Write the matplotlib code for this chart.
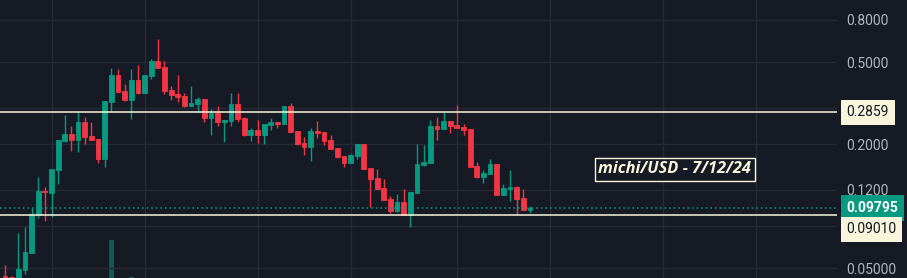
import numpy as np
import matplotlib
matplotlib.use("Agg")
import matplotlib.pyplot as plt

# michi/USD candles (log price scale)
opens = [0.0458, 0.0455, 0.0445, 0.0490, 0.0593, 0.0906, 0.1185, 0.1158, 0.1497, 0.2071,
         0.2239, 0.2094, 0.2560, 0.2189, 0.2117, 0.1693, 0.3201, 0.4328, 0.3619, 0.3273,
         0.4093, 0.3539, 0.4280, 0.5060, 0.4732, 0.3660, 0.3500, 0.3423, 0.3061, 0.3130,
         0.3310, 0.2677, 0.2830, 0.2560, 0.2589, 0.3130, 0.2677, 0.2214, 0.2341, 0.2214,
         0.2476, 0.2560, 0.2504, 0.3061, 0.2315, 0.2025, 0.1937, 0.2315, 0.2289, 0.2094,
         0.1915, 0.1751, 0.1619, 0.1751, 0.2002, 0.1531, 0.1369, 0.1225, 0.1083, 0.0947,
         0.1047, 0.0906, 0.1158, 0.1583, 0.1619, 0.2448, 0.2368, 0.2589, 0.2476, 0.2421,
         0.2368, 0.1566, 0.1384, 0.1432, 0.1601, 0.1133, 0.1211, 0.1238, 0.1096, 0.0958]
highs = [0.0518, 0.0458, 0.0741, 0.0793, 0.0979, 0.1384, 0.1238, 0.1514, 0.2094, 0.2768,
         0.2448, 0.2862, 0.2707, 0.2560, 0.2117, 0.3237, 0.4680, 0.4628, 0.3914, 0.4628,
         0.4839, 0.4328, 0.5175, 0.6470, 0.5060, 0.3828, 0.4328, 0.3539, 0.3828, 0.3385,
         0.3310, 0.2960, 0.3061, 0.2618, 0.3539, 0.3539, 0.2707, 0.2394, 0.2618, 0.2504,
         0.2677, 0.2560, 0.3061, 0.3165, 0.2315, 0.2165, 0.2394, 0.2589, 0.2289, 0.2214,
         0.1915, 0.1751, 0.1790, 0.2002, 0.2002, 0.1531, 0.1514, 0.1354, 0.1120, 0.1146,
         0.1211, 0.1172, 0.2002, 0.1980, 0.2618, 0.2707, 0.2862, 0.2589, 0.3095, 0.2504,
         0.2368, 0.1637, 0.1497, 0.1693, 0.1601, 0.1280, 0.1497, 0.1252, 0.1211, 0.1002]
lows = [0.0430, 0.0440, 0.0438, 0.0469, 0.0593, 0.0876, 0.0847, 0.0886, 0.1280, 0.2048,
        0.1851, 0.1831, 0.2002, 0.2094, 0.1619, 0.1548, 0.2895, 0.3579, 0.3237, 0.2647,
        0.3500, 0.3539, 0.4138, 0.4680, 0.3500, 0.3273, 0.3201, 0.3027, 0.3061, 0.2862,
        0.2560, 0.2214, 0.2448, 0.2048, 0.2448, 0.2560, 0.2189, 0.2071, 0.2025, 0.2002,
        0.2341, 0.2394, 0.2504, 0.2289, 0.1980, 0.1770, 0.1655, 0.2141, 0.1980, 0.1894,
        0.1712, 0.1548, 0.1619, 0.1693, 0.1514, 0.0990, 0.1211, 0.1071, 0.0926, 0.0937,
        0.0906, 0.0793, 0.1158, 0.1566, 0.1619, 0.2094, 0.2368, 0.2264, 0.2394, 0.2214,
        0.1548, 0.1369, 0.1295, 0.1432, 0.1133, 0.1133, 0.1059, 0.0916, 0.0958, 0.0926]
closes = [0.0448, 0.0446, 0.0496, 0.0599, 0.0916, 0.1185, 0.1172, 0.1514, 0.2094, 0.2239,
          0.2094, 0.2560, 0.2165, 0.2094, 0.1693, 0.3237, 0.4328, 0.3579, 0.3273, 0.4093,
          0.3539, 0.4328, 0.5060, 0.4680, 0.3619, 0.3461, 0.3385, 0.3061, 0.3165, 0.3310,
          0.2677, 0.2830, 0.2560, 0.2618, 0.3130, 0.2647, 0.2214, 0.2341, 0.2214, 0.2504,
          0.2560, 0.2504, 0.3061, 0.2289, 0.2002, 0.1937, 0.2315, 0.2264, 0.2071, 0.1894,
          0.1731, 0.1619, 0.1770, 0.2002, 0.1514, 0.1354, 0.1211, 0.1071, 0.0947, 0.1047,
          0.0906, 0.1172, 0.1601, 0.1637, 0.2448, 0.2368, 0.2589, 0.2448, 0.2394, 0.2341,
          0.1548, 0.1384, 0.1448, 0.1601, 0.1133, 0.1225, 0.1238, 0.1083, 0.0958, 0.09795]
volumes = [0, 0, 0, 0, 0, 0, 0, 0, 0, 0, 0, 0, 0, 0, 0, 0, 38.0, 0, 0, 1.0,
           0, 0, 0, 0, 0, 0, 0, 0, 0, 0, 0, 0, 0, 0, 0, 0, 0, 0, 0, 0,
           0, 0, 0, 0, 0, 0, 0, 0, 0, 0, 0, 0, 0, 0, 0, 0, 0, 0, 0, 0,
           0, 0, 0, 0, 0, 0, 0, 0, 0, 0, 0, 0, 0, 0, 0, 0, 0, 0, 0, 0]

# 0.3 and 0.08 grid levels have their labels hidden under the price boxes
price_ticks = [0.8, 0.5, 0.3, 0.2, 0.12, 0.08, 0.05]
price_tick_labels = ["0.8000", "0.5000", "", "0.2000", "0.1200", "", "0.05000"]
grid_bars = [7, 21, 38, 52, 68, 82, 99, 113]
levels = [0.2859, 0.0901]
last_price = 0.09795
title = "michi/USD - 7/12/24"
title_pos = (100.8, 0.151)

BG = "#161a25"
GRID = "#252a36"
UP = "#089981"
DOWN = "#f23645"
CREAM = "#f8f5dd"
TXT = "#b2b5be"

o = np.array(opens)
c = np.array(closes)
h = np.array(highs)
l = np.array(lows)
x = np.arange(len(o))
up = c >= o
colors = np.where(up, UP, DOWN)

fig = plt.figure(figsize=(9.07, 2.78), dpi=100, facecolor=BG)
ax = fig.add_axes([0, 0, 837 / 907, 1])
ax.set_facecolor(BG)
ax.set_yscale("log")
ax.set_ylim(0.0448, 1.0)
ax.set_xlim(-0.75, 125.2)

# volume pane behind candles
axv = ax.twinx()
axv.set_ylim(0, max(volumes) / 0.137)
axv.bar(x, volumes, width=0.75, color=UP, alpha=0.5, zorder=1)
axv.axis("off")
ax.set_zorder(axv.get_zorder() + 1)
ax.patch.set_visible(False)

for gx in grid_bars:
    ax.axvline(gx, color=GRID, lw=1, zorder=0)
for gy in price_ticks:
    ax.axhline(gy, color=GRID, lw=1, zorder=0)

ax.vlines(x, l, h, colors=colors, lw=1, zorder=2)
ax.bar(x, np.abs(c - o), bottom=np.minimum(o, c), width=0.72,
       color=colors, edgecolor=colors, lw=0.6, zorder=3)

for lv in levels:
    ax.axhline(lv, color=CREAM, lw=1.1, zorder=4)
ax.axhline(last_price, color=UP, lw=1.1, ls=(0, (1, 2)), zorder=4)

ax.text(title_pos[0], title_pos[1], title, ha="center", va="center",
        fontsize=11.8, fontweight="bold", style="italic", color=CREAM,
        family=["Open Sans", "DejaVu Sans"], zorder=6,
        bbox=dict(boxstyle="square,pad=0.22", fc=BG, ec=CREAM, lw=1))

ax.yaxis.tick_right()
ax.set_yticks(price_ticks)
ax.set_yticklabels(price_tick_labels)
ax.yaxis.set_minor_locator(matplotlib.ticker.NullLocator())
ax.tick_params(axis="y", length=0, pad=7, labelsize=10, labelcolor=TXT)
for t in ax.get_yticklabels():
    t.set_family("Roboto")
ax.set_xticks([])
for s in ax.spines.values():
    s.set_visible(False)

trans = ax.get_yaxis_transform()
box_kw = dict(xycoords=trans, textcoords="offset points", ha="left", va="center",
              fontsize=10, family="Roboto", annotation_clip=False, zorder=10)
ax.annotate(f"{levels[0]:.4f}", xy=(1, levels[0]), xytext=(7, 0), color="#131722",
            bbox=dict(boxstyle="square,pad=0.4", fc=CREAM, ec="none"), **box_kw)
ax.annotate(f"{last_price:.5f}", xy=(1, last_price), xytext=(7, 0), color="white",
            fontweight="bold",
            bbox=dict(boxstyle="square,pad=0.4", fc=UP, ec="none"), **box_kw)
ax.annotate(f"{levels[1]:.5f}", xy=(1, levels[1]), xytext=(7, -10), color="#131722",
            bbox=dict(boxstyle="square,pad=0.4", fc=CREAM, ec="none"), **box_kw)

fig.savefig("out.png", dpi=100, facecolor=BG)
